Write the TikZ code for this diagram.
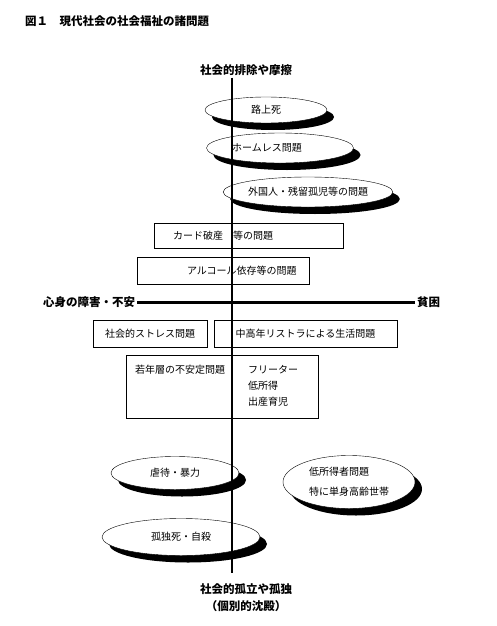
\documentclass[tikz,border=0pt]{standalone}
\usepackage{fontspec}
\setmainfont{Noto Sans CJK JP}
\usetikzlibrary{shapes.geometric, shadows}

\begin{document}
\begin{tikzpicture}[x=1pt, y=-1pt,
    every node/.style={font=\fontsize{10}{16}\selectfont, inner sep=0pt},
    axislabel/.style={font=\fontsize{11.5}{16}\selectfont\bfseries, inner sep=2pt},
    bubble/.style={ellipse, draw, thin, fill=white,
        drop shadow={shadow xshift=7pt, shadow yshift=-7pt, fill=black, opacity=1}},
    probbox/.style={rectangle, draw, thin, fill=white}]
    \useasboundingbox (0,0) rectangle (497,626);
    \node[axislabel, anchor=west, inner sep=0pt] (title) at (25,21) {図１　現代社会の社会福祉の諸問題};

    \node[axislabel] (exclusion) at (246,70) {社会的排除や摩擦};
    \node[axislabel] (isolation) at (246,589) {社会的孤立や孤独};
    \node[axislabel] (sinking) at (246,606) {（個別的沈殿）};
    \node[axislabel] (mind) at (89,302) {心身の障害・不安};
    \node[axislabel] (poverty) at (428.5,302) {貧困};

    \node[bubble, minimum width=122pt, minimum height=26pt] (roadside) at (266,110) {路上死};
    \node[bubble, minimum width=147pt, minimum height=30pt] (homeless) at (280,148) {};
    \node (homelesstext) at (267,148) {ホームレス問題};
    \node[bubble, minimum width=168pt, minimum height=30pt] (foreign) at (308,192) {外国人・残留孤児等の問題};

    \node[probbox, minimum width=189pt, minimum height=25pt] (card) at (248.5,235.5) {};
    \node[anchor=west] (cardtext) at ([xshift=19pt]card.west) {カード破産　等の問題};
    \node[probbox, minimum width=172pt, minimum height=27pt] (alcohol) at (223,270.5) {};
    \node[anchor=west] (alcoholtext) at ([xshift=50pt]alcohol.west) {アルコール依存等の問題};

    \node[probbox, minimum width=114pt, minimum height=27pt] (stress) at (150,333.5) {社会的ストレス問題};
    \node[probbox, minimum width=183pt, minimum height=27pt] (restructure) at (305.5,333.5) {中高年リストラによる生活問題};
    \node[probbox, minimum width=192pt, minimum height=63pt] (youth) at (222,386.5) {};
    \node[anchor=west] (youthtitle) at (135,370) {若年層の不安定問題};
    \node[anchor=north west, align=left] (youthlist) at (248,365) {フリーター\\低所得\\出産育児};

    \node[bubble, minimum width=128pt, minimum height=33pt] (abuse) at (175,473) {虐待・暴力};
    \node[bubble, minimum width=132pt, minimum height=53pt, align=left,
        font=\fontsize{10}{20}\selectfont] (lowincome) at (349,482) {低所得者問題\\特に単身高齢世帯};
    \node[bubble, minimum width=158pt, minimum height=37pt] (lonely) at (181,537) {孤独死・自殺};

    \draw[line width=2pt] ([xshift=-14pt]exclusion.south) -- ([xshift=-14pt, yshift=8pt]isolation.north);
    \draw[line width=3pt] (mind) -- (poverty);
\end{tikzpicture}
\end{document}
